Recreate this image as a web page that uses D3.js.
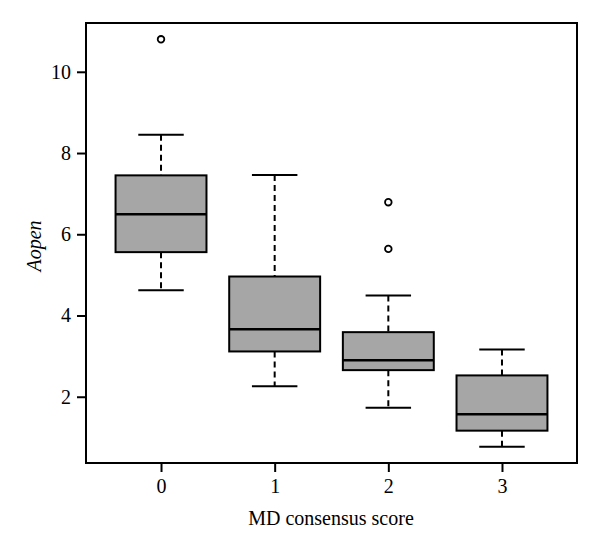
<!DOCTYPE html>
<html>
<head>
<meta charset="utf-8">
<script src="https://cdn.jsdelivr.net/npm/d3@7"></script>
<style>
  body { margin: 0; background: #fff; }
  text { font-family: "Liberation Serif", "DejaVu Serif", serif; fill: #000; }
</style>
</head>
<body>
<div id="chart"></div>
<script>
// Box stats
var groups = ['0', '1', '2', '3'];
var lowerWhisker = [4.62, 2.26, 1.73, 0.77];
var q1 = [5.56, 3.115, 2.655, 1.165];
var median = [6.49, 3.66, 2.90, 1.57];
var q3 = [7.45, 4.96, 3.59, 2.525];
var upperWhisker = [8.45, 7.46, 4.49, 3.16];
var outliers = [[10.80], [], [6.79, 5.64], []];
var yTicks = [2, 4, 6, 8, 10];

var width = 600, height = 547;
var margin = { top: 23, right: 23, bottom: 84, left: 86 };
var innerW = width - margin.left - margin.right;
var innerH = height - margin.top - margin.bottom;

var boxes = groups.map(function(g, i) {
  return {
    group: g, lo: lowerWhisker[i], q1: q1[i], med: median[i],
    q3: q3[i], hi: upperWhisker[i], out: outliers[i]
  };
});

// R style 4% padding of the data range
var allVals = [].concat(lowerWhisker, upperWhisker, [].concat.apply([], outliers));
var vmin = d3.min(allVals), vmax = d3.max(allVals);
var pad = (vmax - vmin) * 0.04;

var yScale = d3.scaleLinear()
  .domain([vmin - pad, vmax + pad])
  .range([innerH, 0]);
var xScale = d3.scaleLinear()
  .domain([0.5 - 0.16, groups.length + 0.5 + 0.16])
  .range([0, innerW]);

var svg = d3.select('#chart')
  .append('svg')
  .attr('width', width)
  .attr('height', height);
var chart = svg.append('g')
  .attr('transform', 'translate(' + margin.left + ',' + margin.top + ')');

var boxW = xScale(1.8) - xScale(1);
var capW = boxW / 2;

var g = chart.selectAll('.box')
  .data(boxes)
  .enter()
  .append('g')
  .attr('class', 'box')
  .attr('transform', function(d, i) { return 'translate(' + xScale(i + 1) + ',0)'; });

// whiskers
g.append('line')
  .attr('x1', 0).attr('x2', 0)
  .attr('y1', function(d) { return yScale(d.hi); })
  .attr('y2', function(d) { return yScale(d.q3); })
  .attr('stroke', '#000').attr('stroke-width', 2).attr('stroke-dasharray', '6,4');
g.append('line')
  .attr('x1', 0).attr('x2', 0)
  .attr('y1', function(d) { return yScale(d.q1); })
  .attr('y2', function(d) { return yScale(d.lo); })
  .attr('stroke', '#000').attr('stroke-width', 2).attr('stroke-dasharray', '6,4');
g.append('line')
  .attr('x1', -capW / 2).attr('x2', capW / 2)
  .attr('y1', function(d) { return yScale(d.hi); })
  .attr('y2', function(d) { return yScale(d.hi); })
  .attr('stroke', '#000').attr('stroke-width', 2);
g.append('line')
  .attr('x1', -capW / 2).attr('x2', capW / 2)
  .attr('y1', function(d) { return yScale(d.lo); })
  .attr('y2', function(d) { return yScale(d.lo); })
  .attr('stroke', '#000').attr('stroke-width', 2);

// box
g.append('rect')
  .attr('x', -boxW / 2)
  .attr('width', boxW)
  .attr('y', function(d) { return yScale(d.q3); })
  .attr('height', function(d) { return yScale(d.q1) - yScale(d.q3); })
  .attr('fill', '#a6a6a6')
  .attr('stroke', '#000')
  .attr('stroke-width', 2);
g.append('line')
  .attr('x1', -boxW / 2).attr('x2', boxW / 2)
  .attr('y1', function(d) { return yScale(d.med); })
  .attr('y2', function(d) { return yScale(d.med); })
  .attr('stroke', '#000').attr('stroke-width', 2.5);

// outliers
g.selectAll('circle')
  .data(function(d) { return d.out; })
  .enter()
  .append('circle')
  .attr('cx', 0)
  .attr('cy', function(d) { return yScale(d); })
  .attr('r', 3.3)
  .attr('fill', 'none')
  .attr('stroke', '#000')
  .attr('stroke-width', 1.8);

// frame
chart.append('rect')
  .attr('width', innerW)
  .attr('height', innerH)
  .attr('fill', 'none')
  .attr('stroke', '#000')
  .attr('stroke-width', 2);

// Y-Axis
var yAxis = d3.axisLeft(yScale)
  .tickValues(yTicks)
  .tickSize(9)
  .tickPadding(6)
  .tickSizeOuter(0);
var ya = chart.append('g').call(yAxis);
ya.select('.domain').remove();
ya.selectAll('line').attr('stroke-width', 2);
ya.selectAll('text').style('font-size', '20px');

// X-Axis
var xAxis = d3.axisBottom(xScale)
  .tickValues(groups.map(function(d, i) { return i + 1; }))
  .tickFormat(function(d) { return groups[d - 1]; })
  .tickSize(9)
  .tickPadding(7)
  .tickSizeOuter(0);
var xa = chart.append('g')
  .attr('transform', 'translate(0,' + innerH + ')')
  .call(xAxis);
xa.select('.domain').remove();
xa.selectAll('line').attr('stroke-width', 2);
xa.selectAll('text').style('font-size', '20px');

// Labels
svg.append('text')
  .attr('x', 331)
  .attr('y', 525)
  .attr('text-anchor', 'middle')
  .style('font-size', '20px')
  .text('MD consensus score');
svg.append('text')
  .attr('transform', 'translate(41,' + (margin.top + innerH / 2 + 3) + ') rotate(-90)')
  .attr('text-anchor', 'middle')
  .style('font-size', '20px')
  .style('font-style', 'italic')
  .text('Aopen');
</script>
</body>
</html>
